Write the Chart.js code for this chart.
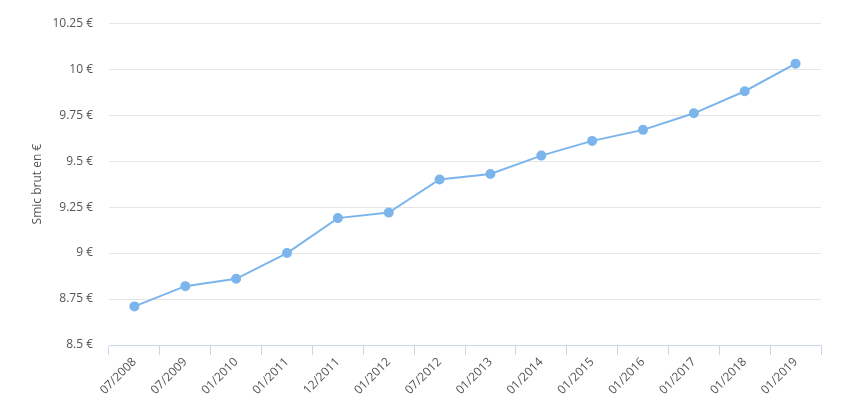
<!DOCTYPE html>
<html>
<head>
<meta charset="utf-8">
<script src="https://cdn.jsdelivr.net/npm/chart.js@4/dist/chart.umd.min.js"></script>
<style>
  html, body { margin: 0; padding: 0; background: #fff; }
  #wrap { width: 845px; height: 399px; position: relative; }
</style>
</head>
<body>
<div id="wrap"><canvas id="smicChart"></canvas></div>
<script>
// dates des revalorisations du smic
const periods = ["07/2008", "07/2009", "01/2010", "01/2011", "12/2011", "01/2012", "07/2012",
  "01/2013", "01/2014", "01/2015", "01/2016", "01/2017", "01/2018", "01/2019"];
// smic horaire brut en euros
const smicValues = [8.71, 8.82, 8.86, 9.00, 9.19, 9.22, 9.40, 9.43, 9.53, 9.61, 9.67, 9.76, 9.88, 10.03];
const yTicks = [8.5, 8.75, 9, 9.25, 9.5, 9.75, 10, 10.25];

const ctx = document.getElementById("smicChart");
const fontFamily = "'Open Sans', 'Noto Sans', sans-serif";

const smicChart = new Chart(ctx, {
  type: "line",
  data: {
    labels: periods,
    datasets: [{
      label: "Smic brut",
      data: smicValues,
      borderColor: "#7cb5ec",
      backgroundColor: "#7cb5ec",
      borderWidth: 2,
      pointRadius: 4,
      pointHoverRadius: 4,
      fill: false,
      tension: 0,
    }],
  },
  options: {
    responsive: true,
    maintainAspectRatio: false,
    animation: false,
    layout: { padding: { top: 20, right: 24, left: 26, bottom: 0 } },
    plugins: {
      legend: { display: false },
      tooltip: { enabled: false },
    },
    scales: {
      x: {
        offset: true,
        grid: {
          offset: true,
          drawOnChartArea: false,
          drawTicks: true,
          tickLength: 10,
          color: "#ccd6eb",
        },
        border: { color: "#ccd6eb" },
        ticks: {
          minRotation: 45,
          maxRotation: 45,
          autoSkip: false,
          padding: 0,
          color: "#555555",
          font: { family: fontFamily, size: 12 },
        },
        afterFit: (scale) => { scale.height = 54; },
      },
      y: {
        min: 8.5,
        max: 10.25,
        afterBuildTicks: (scale) => { scale.ticks = yTicks.map((v) => ({ value: v })); },
        grid: { color: "#e6e6e6", drawTicks: false },
        border: { display: false },
        ticks: {
          padding: 16,
          color: "#555555",
          font: { family: fontFamily, size: 12 },
          callback: (v) => String(v) + " €",
        },
        title: {
          display: true,
          text: "Smic brut en €",
          color: "#555555",
          font: { family: fontFamily, size: 12 },
        },
        afterFit: (scale) => { scale.width = 83; },
      },
    },
  },
});
</script>
</body>
</html>
